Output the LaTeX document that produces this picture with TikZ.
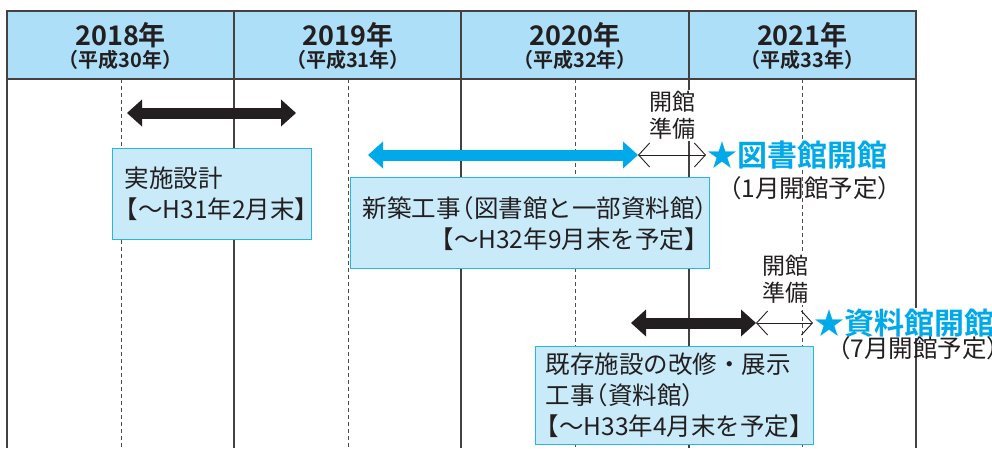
\documentclass[tikz,border=0pt]{standalone}
\usepackage{fontspec}
\setmainfont{Noto Sans CJK JP}[BoldFont={Noto Sans CJK JP Bold}]
\usetikzlibrary{arrows.meta,positioning}
\definecolor{hdblue}{HTML}{ADE0F8}
\definecolor{boxfill}{HTML}{C8EAF9}
\definecolor{boxline}{HTML}{2AB4E6}
\definecolor{cyanbar}{HTML}{00A9E9}
\definecolor{ink}{HTML}{231F20}
\newcommand\jlp{\leavevmode\kern-.45em（}
\newcommand\jrp{）\kern-.45em}
\newcommand\jlb{\leavevmode\kern-.45em【}
\newcommand\jrb{】\kern-.45em}

\begin{document}
\begin{tikzpicture}[x=1pt,y=-1pt,
  grid/.style={draw=ink!85,line width=1.1pt},
  midline/.style={draw=ink!80,line width=0.8pt,dash pattern=on 4pt off 3pt},
  yeartext/.style={font=\fontsize{27}{29}\selectfont\bfseries,text=ink},
  eratext/.style={font=\fontsize{20}{22}\selectfont\bfseries,text=ink},
  taskbox/.style={draw=boxline,fill=boxfill,line width=1.2pt,anchor=north west,inner xsep=12pt,font=\fontsize{24.5}{31}\selectfont,text=ink,align=left},
  prep/.style={fill=white,inner sep=1pt,align=center,font=\fontsize{23}{27}\selectfont,text=ink},
  opening/.style={fill=white,inner sep=1pt,anchor=west,font=\fontsize{30}{32}\selectfont\bfseries,text=cyanbar},
  planned/.style={inner sep=0pt,anchor=west,font=\fontsize{24.5}{26}\selectfont,text=ink},
  bar/.style={line width=11pt,{Triangle[length=15pt,width=27pt,line width=0pt]}-{Triangle[length=15pt,width=27pt,line width=0pt]}},
  prepline/.style={line width=0.9pt,draw=ink,{Straight Barb[length=11pt,width=24pt]}-{Straight Barb[length=11pt,width=24pt]}}
]
\useasboundingbox (0,0) rectangle (992,448);

\fill[hdblue] (7,11) rectangle (916,79);
\foreach \x in {121,348,575,802}
  \draw[midline] (\x,79) -- (\x,448);
\foreach \x in {234,461,689}
  \draw[grid] (\x,11) -- (\x,448);
\draw[grid] (7,448) -- (7,11) -- (916,11) -- (916,448);
\draw[grid] (7,79) -- (916,79);

\foreach \yr/\era [count=\i] in {2018/30,2019/31,2020/32,2021/33} {
  \node[yeartext] (year\i) at ({7+227.25*(\i-0.5)},35) {\yr 年};
  \node[eratext] (era\i) at ({7+227.25*(\i-0.5)},60) {\jlp 平成\era 年\jrp};
}

\node[taskbox,minimum width=199pt,minimum height=91pt,text width=175pt] (design) at (112,148)
  {実施設計\\\jlb〜H31年2月末\jrb};
\node[taskbox,minimum width=359pt,minimum height=91pt,text width=335pt,align=right] (newbuild) at (350,177)
  {新築工事\jlp 図書館と一部資料館\jrp\\\jlb〜H32年9月末を予定\jrb};
\node[taskbox,minimum width=278pt,minimum height=98pt,text width=258pt,inner xsep=10pt] (renovate) at (535,346)
  {既存施設の改修・展示\\工事\jlp 資料館\jrp\\\jlb〜H33年4月末を予定\jrb};

\node[prep] (prep1) at (672,115.5) {開館\\準備};
\node[prep] (prep2) at (785,279.5) {開館\\準備};

\node[opening] (libopen) at (706,155) {★図書館開館};
\node[planned] (libplan) at (728,188) {\jlp 1月開館予定\jrp};
\node[opening] (arcopen) at (813,323) {★資料館開館};
\node[planned] (arcplan) at (837,348) {\jlp 7月開館予定\jrp};

\coordinate (dstart) at (127,113);
\coordinate (dend) at (296,113);
\coordinate (nstart) at (368,155);
\coordinate (nend) at (638,155);
\coordinate (rstart) at (631,323);
\coordinate (rend) at (756,323);

\draw[bar,ink] (dstart) -- (dend);
\draw[bar,cyanbar] (nstart) -- (nend);
\draw[bar,ink] (rstart) -- (rend);
\draw[prepline] (nend) -- (libopen.west);
\draw[prepline] (rend) -- (arcopen.west);
\end{tikzpicture}
\end{document}
